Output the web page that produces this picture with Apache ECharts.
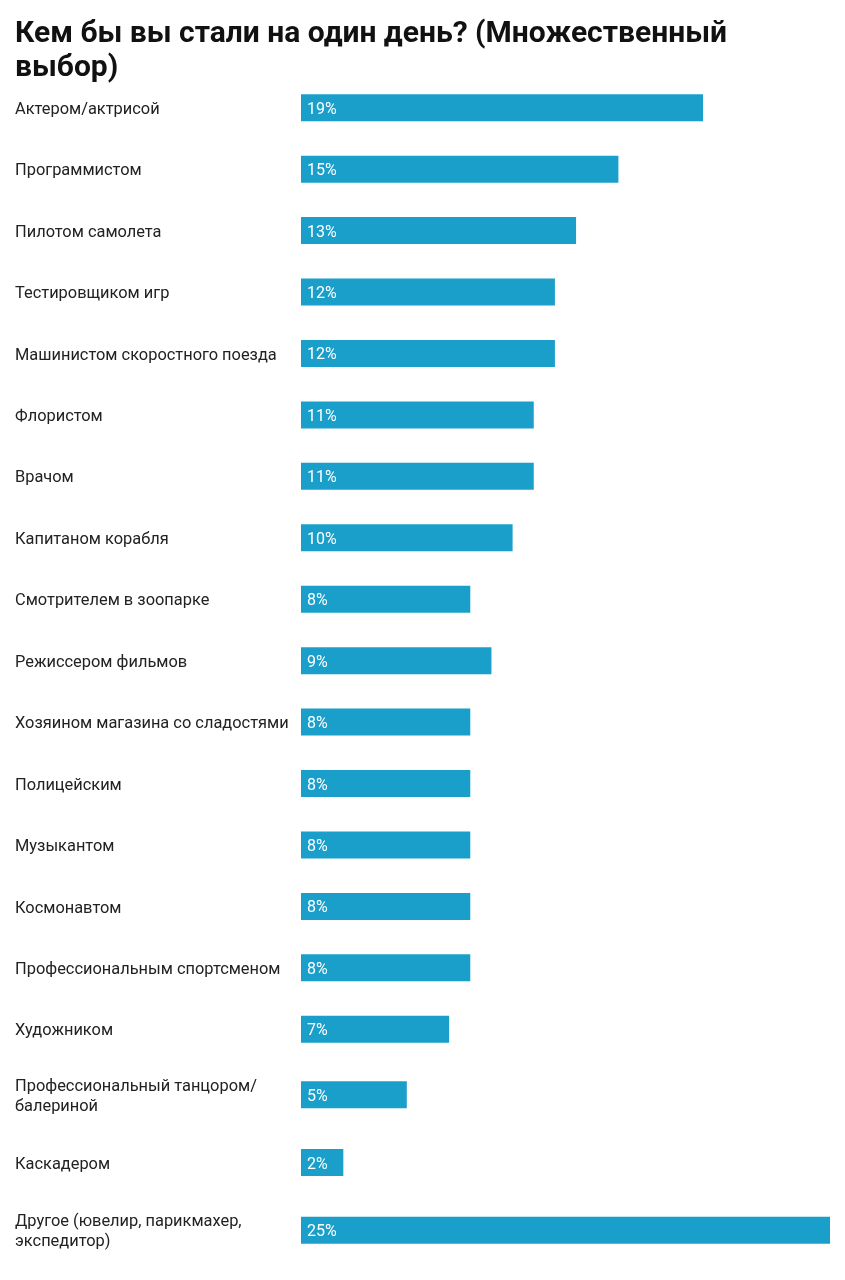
<!DOCTYPE html>
<html><head><meta charset="utf-8">
<script src="https://cdn.jsdelivr.net/npm/echarts@6/dist/echarts.min.js"></script>
<style>html,body{margin:0;padding:0;background:#fff}#c{width:845px;height:1280px}</style>
</head><body><div id="c"></div>
<script>
const titleText = "Кем бы вы стали на один день? (Множественный\nвыбор)";
const categoriesA = ["Актером/актрисой","Программистом","Пилотом самолета","Тестировщиком игр","Машинистом скоростного поезда","Флористом","Врачом","Капитаном корабля","Смотрителем в зоопарке","Режиссером фильмов","Хозяином магазина со сладостями","Полицейским","Музыкантом","Космонавтом","Профессиональным спортсменом","Художником"];
const valuesA = [19,15,13,12,12,11,11,10,8,9,8,8,8,8,8,7];
const categoriesB = ["Профессиональный танцором/\nбалериной","Каскадером","Другое (ювелир, парикмахер,\nэкспедитор)"];
const valuesB = [5,2,25];

const chart = echarts.init(document.getElementById('c'), null, {renderer:'canvas'});
const font = 'Roboto, "Noto Sans", sans-serif';
const barColor = '#1a9fcb';
function yAx(idx, cats){
  return {type:'category', gridIndex:idx, data:cats, inverse:true,
    axisLine:{show:false}, axisTick:{show:false}, splitLine:{show:false},
    axisLabel:{align:'left', margin:286, fontSize:16.4, color:'#222', fontFamily:font, lineHeight:20,
      formatter: v => v.split('\n').map(s => '{t|' + s + '}').join('\n'),
      rich:{t:{fontSize:16.4, color:'#222', fontFamily:font, lineHeight:20, padding:[4,0,0,0]}}}};
}
function xAx(idx){
  return {type:'value', gridIndex:idx, min:0, max:25, show:false};
}
function ser(idx, vals){
  return {type:'bar', xAxisIndex:idx, yAxisIndex:idx, data:vals, barWidth:27,
    itemStyle:{color:barColor}, silent:true,
    label:{show:true, position:'insideLeft', distance:6, offset:[0,2], formatter:'{c}%', color:'#fff', fontSize:16, fontFamily:font}};
}
chart.setOption({
  animation:false,
  title:{text:titleText, left:10, top:12, textStyle:{fontSize:30, fontWeight:'bold', color:'#111', fontFamily:font, lineHeight:34}},
  grid:[
    {left:301, width:529, top:77, height:983},
    {left:301, width:529, top:1061, height:203}
  ],
  xAxis:[xAx(0), xAx(1)],
  yAxis:[yAx(0, categoriesA), yAx(1, categoriesB)],
  series:[ser(0, valuesA), ser(1, valuesB)]
});
</script></body></html>
